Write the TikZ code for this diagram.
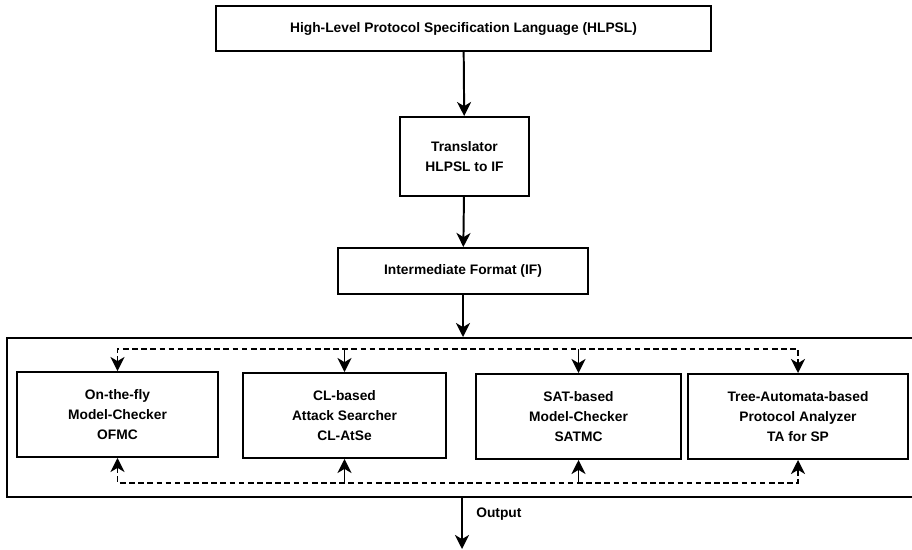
\documentclass[tikz,border=0pt]{standalone}
\usepackage{fontspec}
\setmainfont{Liberation Sans}
\usetikzlibrary{arrows.meta}
\tikzset{
	box/.style={draw, line width=1.4pt, inner sep=0pt, align=center, font=\fontsize{9.8}{14.2}\selectfont\bfseries},
	arr/.style={line width=1.4pt, -{Stealth[length=10pt, width=10pt, inset=3pt]}},
	dashline/.style={line width=1.4pt, dash pattern=on 4pt off 2.5pt, {Stealth[length=10pt, width=10pt, inset=3pt]}-{Stealth[length=10pt, width=10pt, inset=3pt]}}
}

\begin{document}
\begin{tikzpicture}[x=0.025cm, y=-0.025cm]
			%%%%% START %%%%%
			\useasboundingbox (0, 0) rectangle (912, 550);
			
			\node[box, minimum width=495*0.025cm, minimum height=45*0.025cm] (hlpsl) at (463.5, 28.5) {High-Level Protocol Specification Language (HLPSL)};
			\node[box, minimum width=129*0.025cm, minimum height=79*0.025cm] (trans) at (464.5, 156.5) {Translator\\HLPSL to IF};
			\node[box, minimum width=250*0.025cm, minimum height=46*0.025cm] (ifmt) at (463, 271) {Intermediate Format (IF)};
			
			\draw[arr] (hlpsl) -- (trans);
			\draw[arr] (trans) -- (ifmt);
			
			% back-ends
			\node[draw, line width=1.4pt, minimum width=913*0.025cm, minimum height=159*0.025cm] (engines) at (463.5, 417.5) {};
			\draw[arr] (ifmt.south) -- (ifmt.south |- engines.north);
			
			\node[box, minimum width=201*0.025cm, minimum height=85*0.025cm] (ofmc) at (117.5, 414.5) {On-the-fly\\Model-Checker\\OFMC};
			\node[box, minimum width=203*0.025cm, minimum height=85*0.025cm] (clatse) at (344.5, 415.5) {CL-based\\Attack Searcher\\CL-AtSe};
			\node[box, minimum width=205*0.025cm, minimum height=85*0.025cm] (satmc) at (578.5, 416.5) {SAT-based\\Model-Checker\\SATMC};
			\node[box, minimum width=220*0.025cm, minimum height=85*0.025cm] (tasp) at (798, 416.5) {Tree-Automata-based\\Protocol Analyzer\\TA for SP};
			
			\coordinate (dtop) at (0, 349);
			\coordinate (dbot) at (0, 483);
			
			\draw[dashline] (ofmc.north) -- (ofmc.north |- dtop) -| (tasp.north);
			\draw[arr] (clatse.north |- dtop) -- (clatse.north);
			\draw[arr] (satmc.north |- dtop) -- (satmc.north);
			
			\draw[dashline] (ofmc.south) -- (ofmc.south |- dbot) -| (tasp.south);
			\draw[arr] (clatse.south |- dbot) -- (clatse.south);
			\draw[arr] (satmc.south |- dbot) -- (satmc.south);
			
			% result
			\coordinate (outend) at (462, 549);
			\draw[arr] (engines.south -| outend) -- (outend);
			\node[anchor=west, inner sep=0pt, font=\fontsize{9.8}{14.2}\selectfont\bfseries] (outlbl) at (476, 514) {Output};
			%%%%% END %%%%%
\end{tikzpicture}
\end{document}
